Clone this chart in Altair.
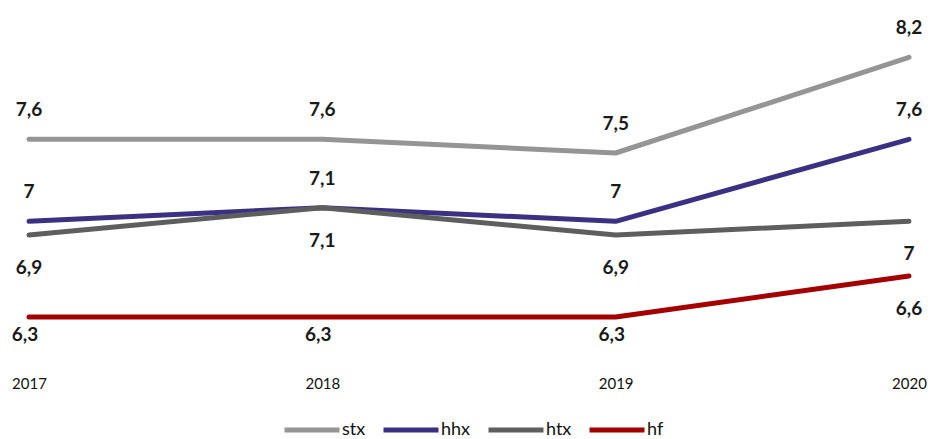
import altair as alt
import pandas as pd

years = ["2017", "2018", "2019", "2020"]
series_names = ["stx", "hhx", "htx", "hf"]
stx = [7.6, 7.6, 7.5, 8.2]
hhx = [7.0, 7.1, 7.0, 7.6]
htx = [6.9, 7.1, 6.9, 7.0]
hf = [6.3, 6.3, 6.3, 6.6]
colors = ["#959595", "#3b3183", "#5e5e5e", "#a50000"]

rows = []
for name, vals in zip(series_names, [stx, hhx, htx, hf]):
    for y, v in zip(years, vals):
        rows.append({"year": y, "series": name, "value": v})
df = pd.DataFrame(rows)

FONT = "Lato"

base = alt.Chart(df).encode(
    x=alt.X("year:O", scale=alt.Scale(type="point", padding=0),
            axis=alt.Axis(title=None, labelAngle=0, domain=False, ticks=False,
                          labelPadding=18, labelFontSize=15, labelFont=FONT,
                          labelColor="#111111", grid=False)),
    y=alt.Y("value:Q", scale=alt.Scale(domain=[6.0, 8.4], nice=False, zero=False),
            axis=None),
)

lines = base.mark_line(strokeWidth=5, strokeCap="round", strokeJoin="round").encode(
    color=alt.Color("series:N",
                    scale=alt.Scale(domain=series_names, range=colors),
                    sort=series_names,
                    legend=alt.Legend(title=None, orient="none", direction="horizontal",
                                      legendX=253, legendY=370,
                                      symbolType="stroke", symbolSize=3025,
                                      symbolStrokeWidth=5, labelFontSize=18,
                                      labelFont=FONT, labelColor="#111111",
                                      labelOffset=0, columnPadding=7, padding=0)),
    order=alt.Order("series:N"),
)

label_expr = "replace(format(datum.value, '.1~f'), '.', ',')"

text_common = dict(fontSize=19, fontWeight="bold", font=FONT, color="#1a1a1a",
                   align="center", baseline="alphabetic")

above = base.transform_filter(
    "datum.series == 'stx' || datum.series == 'hhx'"
).transform_calculate(lbl=label_expr).mark_text(dy=-23, **text_common).encode(text="lbl:N")

below = base.transform_filter(
    "datum.series == 'htx' || (datum.series == 'hf' && datum.year == '2020')"
).transform_calculate(lbl=label_expr).mark_text(dy=39, **text_common).encode(text="lbl:N")

below_near = base.transform_filter(
    "datum.series == 'hf' && datum.year != '2020'"
).transform_calculate(lbl=label_expr).mark_text(dy=24, dx=-4, **text_common).encode(text="lbl:N")

chart = alt.layer(lines, above, below, below_near).properties(
    width=880, height=328,
    autosize=alt.AutoSizeParams(type="none"),
    padding={"left": 21, "top": 22, "right": 18, "bottom": 81},
    background="white",
).configure_view(stroke=None)

chart.save("out.html", embed_options={"renderer": "svg", "actions": False})
